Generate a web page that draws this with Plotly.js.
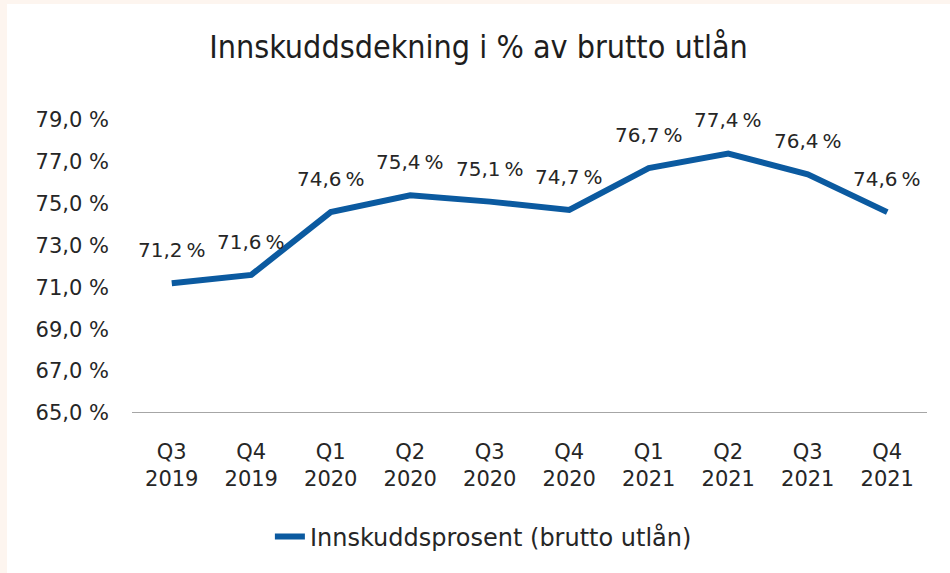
<!DOCTYPE html>
<html>
<head>
<meta charset="utf-8">
<script src="https://cdn.plot.ly/plotly-3.0.1.min.js"></script>
<style>
  html, body { margin: 0; padding: 0; background: #fdf5ef; width: 950px; height: 573px; overflow: hidden; }
  #chart { position: absolute; left: 7px; top: 4px; width: 943px; height: 569px; background: #ffffff; }
</style>
</head>
<body>
<div id="chart"></div>
<script>
const categories = ["Q3<br>2019", "Q4<br>2019", "Q1<br>2020", "Q2<br>2020", "Q3<br>2020", "Q4<br>2020", "Q1<br>2021", "Q2<br>2021", "Q3<br>2021", "Q4<br>2021"];
const values = [71.2, 71.6, 74.6, 75.4, 75.1, 74.7, 76.7, 77.4, 76.4, 74.6];
const valueLabels = ["71,2\u2009%", "71,6\u2009%", "74,6\u2009%", "75,4\u2009%", "75,1\u2009%", "74,7\u2009%", "76,7\u2009%", "77,4\u2009%", "76,4\u2009%", "74,6\u2009%"];
const yTickVals = [65, 67, 69, 71, 73, 75, 77, 79];
const yTickText = ["65,0 %", "67,0 %", "69,0 %", "71,0 %", "73,0 %", "75,0 %", "77,0 %", "79,0 %"];
const seriesName = "Innskuddsprosent (brutto utlån)";
const chartTitle = "Innskuddsdekning i % av brutto utlån";

const textColor = "#262626";
const lineColor = "#0b5aa0";
const baseFamily = "'DejaVu Sans', Verdana, sans-serif";
const tickFont = { family: baseFamily, size: 21, color: textColor };
const dataFont = { family: baseFamily, size: 20, color: textColor };

const trace = {
  type: "scatter",
  mode: "lines",
  x: categories,
  y: values,
  name: seriesName,
  line: { color: lineColor, width: 6 },
  hoverinfo: "skip"
};

const annotations = categories.map((c, i) => ({
  x: c, y: values[i], xref: "x", yref: "y",
  text: valueLabels[i], showarrow: false, yshift: 33,
  font: dataFont
}));

const layout = {
  width: 943, height: 569,
  margin: { l: 125, r: 23, t: 116, b: 160 },
  paper_bgcolor: "#ffffff",
  plot_bgcolor: "#ffffff",
  title: {
    text: chartTitle,
    x: 0.5, xanchor: "center", xref: "container",
    y: 1 - 43 / 569, yanchor: "middle", yref: "container",
    font: { family: "'DejaVu Sans Condensed', 'Liberation Sans', Arial, sans-serif", size: 32, color: "#1e1e1e" }
  },
  xaxis: {
    type: "category",
    range: [-0.5, 9.5],
    showgrid: false, zeroline: false,
    showline: false,
    ticks: "",
    ticklabelstandoff: 24,
    tickfont: tickFont,
    fixedrange: true
  },
  yaxis: {
    range: [65, 79],
    tickvals: yTickVals,
    ticktext: yTickText,
    showgrid: false, zeroline: false, showline: false,
    ticks: "",
    ticklabelstandoff: 22,
    tickfont: tickFont,
    fixedrange: true
  },
  shapes: [{
    type: "line", xref: "paper", yref: "y",
    x0: 0, x1: 1, y0: 65, y1: 65,
    line: { color: "#a6a6a6", width: 2 },
    layer: "below"
  }],
  annotations: annotations,
  showlegend: true,
  legend: {
    orientation: "h",
    x: 0.442, xanchor: "center",
    y: -(533 - 409) / 293, yanchor: "middle",
    font: { family: baseFamily, size: 24, color: textColor },
    bgcolor: "rgba(0,0,0,0)"
  }
};

Plotly.newPlot("chart", [trace], layout, { displayModeBar: false, staticPlot: true });
</script>
</body>
</html>
